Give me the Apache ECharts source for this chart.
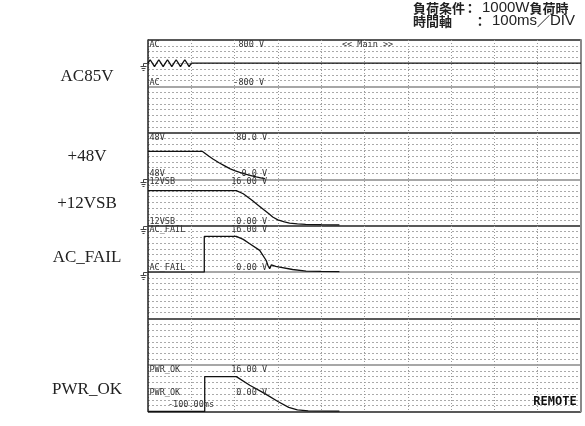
<!DOCTYPE html>
<html>
<head>
<meta charset="utf-8">
<script src="https://cdn.jsdelivr.net/npm/echarts@6/dist/echarts.min.js"></script>
<style>
  html, body { margin: 0; padding: 0; background: #fff; }
  #chart { width: 585px; height: 426px; }
</style>
</head>
<body>
<div id="chart"></div>
<script>
// Time base: 100 ms per division, 10 divisions starting at -100 ms
const timeMin = -100, timeMax = 900, timeStep = 100;

// AC input (85 V rms, 50 Hz): peaks and zero crossings, then input removed
const acTime  = [-100, -95, -90, -85, -80, -75, -70, -65, -60, -55, -50, -45, -40, -35, -30, -25, -20, -15, -10, -5, 0, 900];
const acVolts = [0, 120, 0, -120, 0, 120, 0, -120, 0, 120, 0, -120, 0, 120, 0, -120, 0, 120, 0, -120, 0, 0];

// +48V output
const v48Time  = [-100, 26, 40, 50, 65, 75, 90, 100, 112, 125, 140, 150, 160, 170];
const v48Volts = [48, 48, 40, 35, 28, 24, 18, 15, 12, 9, 6, 4, 2.5, 1];

// +12VSB output
const vsbTime  = [-100, 104, 120, 141, 155, 169, 180, 188, 200, 215, 227, 245, 264, 300, 342];
const vsbVolts = [12.1, 12.1, 11.0, 8.7, 7.0, 5.3, 4.0, 3.0, 2.0, 1.3, 0.9, 0.6, 0.45, 0.35, 0.3];

// AC_FAIL signal
const failTime  = [-100, 30, 30, 104, 120, 135, 158, 173, 177, 181, 185, 195, 204, 234, 265, 300, 342];
const failVolts = [0, 0, 12.3, 12.3, 11.3, 9.8, 7.5, 4.0, 2.3, 1.2, 2.5, 2.0, 1.7, 0.9, 0.35, 0.25, 0.2];

// PWR_OK signal
const pwrTime  = [-100, 31, 31, 104, 135, 169, 200, 225, 245, 270, 342];
const pwrVolts = [0, 0, 12.0, 12.0, 9.0, 6.2, 3.4, 1.4, 0.5, 0.2, 0.1];

// Channel scales and readouts
const channelNames  = ['AC', '48V', '12VSB', 'AC_FAIL', 'PWR_OK'];
const channelMin    = [-800, 0, 0, 0, 0];
const channelMax    = [800, 80, 16, 16, 16];
const channelTopTxt = ['800 V', '80.0 V', '16.00 V', '16.00 V', '16.00 V'];
const channelBotTxt = ['-800 V', '0.0 V', '0.00 V', '0.00 V', '0.00 V'];
const sideLabels    = ['AC85V', '+48V', '+12VSB', 'AC_FAIL', 'PWR_OK'];
const traceTimes    = [acTime, v48Time, vsbTime, failTime, pwrTime];
const traceVolts    = [acVolts, v48Volts, vsbVolts, failVolts, pwrVolts];

// Header rows: [label, colon, pieces of the value with their script]
const headerLoadLabel = '負荷条件';
const headerLoadValue = [['1000W', 'latin'], ['負荷時', 'cjk']];
const headerTimeLabel = '時間軸';
const headerTimeValue = [['100ms', 'latin'], ['／', 'cjk'], ['DIV', 'latin']];
const headerColon     = '：';
const timeReadout = '-100.00ms';
const modeText = '<< Main >>';
const remoteText = 'REMOTE';

// ---- layout ----
const plotLeft = 148, plotRight = 4, plotTop = 40, plotBottom = 14.6;
const divCount = 8;
const divH = (426 - plotTop - plotBottom) / divCount;
const channelSlot = [0, 2, 3, 4, 7];          // vertical division each channel occupies
const topLabelY = [45, 138, 182, 229.5, 369.5];
const botLabelY = [82.5, 173.5, 221.5, 267.5, 393];
const sideLabelY = [77, 157, 204, 258, 390];
const monoFont = "8.5px 'DejaVu Sans Mono'";
const textCol = '#333';
const headerFonts = {
  cjk: "bold 13px 'Noto Sans CJK JP'",
  latin: "15px 'Liberation Sans'"
};

const chart = echarts.init(document.getElementById('chart'), null, { renderer: 'canvas' });

const grids = [{ left: plotLeft, right: plotRight, top: plotTop, bottom: plotBottom }];
const xAxes = [{
  type: 'value', gridIndex: 0, min: timeMin, max: timeMax, interval: timeStep,
  axisLine: { show: false }, axisTick: { show: false }, axisLabel: { show: false },
  splitLine: { show: true, lineStyle: { color: '#999', width: 1, type: [1, 2] } }
}];
const yAxes = [{
  type: 'value', gridIndex: 0, min: 0, max: divCount, interval: 1,
  axisLine: { show: true, onZero: false, lineStyle: { color: '#222', width: 1.5 } },
  axisTick: { show: false }, axisLabel: { show: false },
  splitLine: { show: true, lineStyle: { color: ['#222', '#8a8a8a'], width: 1.5 } },
  minorTick: { show: false, splitNumber: 8 },
  minorSplitLine: { show: true, lineStyle: { color: '#aaa', width: 1, type: [2, 2] } }
}, {
  type: 'value', gridIndex: 0, min: 0, max: divCount, position: 'right',
  axisLine: { show: true, onZero: false, lineStyle: { color: '#8a8a8a', width: 2 } },
  axisTick: { show: false }, axisLabel: { show: false }, splitLine: { show: false }
}];

const series = [];
channelNames.forEach((name, i) => {
  grids.push({ left: plotLeft, right: plotRight, top: plotTop + channelSlot[i] * divH, height: divH });
  xAxes.push({ type: 'value', gridIndex: i + 1, min: timeMin, max: timeMax, show: false });
  yAxes.push({ type: 'value', gridIndex: i + 1, min: channelMin[i], max: channelMax[i], show: false });
  series.push({
    name: name, type: 'line', xAxisIndex: i + 1, yAxisIndex: i + 2,
    showSymbol: false, silent: true, z: 5,
    lineStyle: { color: '#111', width: 1.3 },
    data: traceTimes[i].map((t, k) => [t, traceVolts[i][k]])
  });
});

function txt(text, x, y, font, fill, align, z) {
  return {
    type: 'text', z: z || 10, silent: true,
    style: { text: text, x: x, y: y, font: font, fill: fill,
             textAlign: align || 'left', align: align || 'left',
             textVerticalAlign: 'middle', verticalAlign: 'middle' }
  };
}

// measure text so mixed-script header pieces sit flush
const measureCtx = document.createElement('canvas').getContext('2d');
function textWidth(text, font) {
  measureCtx.font = font;
  return measureCtx.measureText(text).width;
}
function pushPieces(list, pieces, x0, y) {
  let x = x0;
  pieces.forEach(([text, kind]) => {
    const font = headerFonts[kind];
    list.push(txt(text, x, y, font, '#222'));
    x += textWidth(text, font);
  });
}

const graphics = [];
// header
graphics.push(txt(headerLoadLabel, 413, 8, headerFonts.cjk, '#222'));
graphics.push(txt(headerColon, 470, 8, headerFonts.cjk, '#222', 'center'));
pushPieces(graphics, headerLoadValue, 482, 8);
graphics.push(txt(headerTimeLabel, 413, 21, headerFonts.cjk, '#222'));
graphics.push(txt(headerColon, 480, 21, headerFonts.cjk, '#222', 'center'));
pushPieces(graphics, headerTimeValue, 492, 21);
// channel readouts
channelNames.forEach((name, i) => {
  graphics.push(txt(name, 149.5, topLabelY[i], monoFont, textCol));
  graphics.push(txt(name, 149.5, botLabelY[i], monoFont, textCol));
  const vx = i === 0 ? 264 : 267;
  graphics.push(txt(channelTopTxt[i], vx, topLabelY[i], monoFont, textCol, 'right'));
  graphics.push(txt(channelBotTxt[i], vx, botLabelY[i], monoFont, textCol, 'right'));
  graphics.push(txt(sideLabels[i], 87, sideLabelY[i], "17px 'Liberation Serif'", '#222', 'center'));
});
graphics.push(txt(modeText, 342, 45, monoFont, textCol));
graphics.push(txt(timeReadout, 168, 405, monoFont, textCol));
graphics.push(txt(remoteText, 555, 402, "bold 12px 'DejaVu Sans Mono'", '#111', 'center'));

chart.setOption({
  animation: false,
  backgroundColor: '#fff',
  grid: grids,
  xAxis: xAxes,
  yAxis: yAxes,
  series: series,
  graphic: graphics
});

// ground markers at each channel's zero level
const groundCol = '#444';
for (let i = 0; i < 4; i++) {
  const p = chart.convertToPixel({ xAxisIndex: i + 1, yAxisIndex: i + 2 }, [timeMin, 0]);
  const y = Math.round(p[1]) + 0.5, x = 143.5;
  const seg = (x1, y1, x2, y2) => ({ type: 'line', silent: true, z: 10,
    shape: { x1: x1, y1: y1, x2: x2, y2: y2 }, style: { stroke: groundCol, lineWidth: 1 } });
  graphics.push(seg(x, y, plotLeft, y));
  graphics.push(seg(x, y, x, y + 3));
  graphics.push(seg(x - 3, y + 3, x + 3, y + 3));
  graphics.push(seg(x - 2, y + 5, x + 2, y + 5));
  graphics.push(seg(x - 1, y + 7, x + 1, y + 7));
}
chart.setOption({ graphic: graphics }, { replaceMerge: ['graphic'] });
</script>
</body>
</html>
